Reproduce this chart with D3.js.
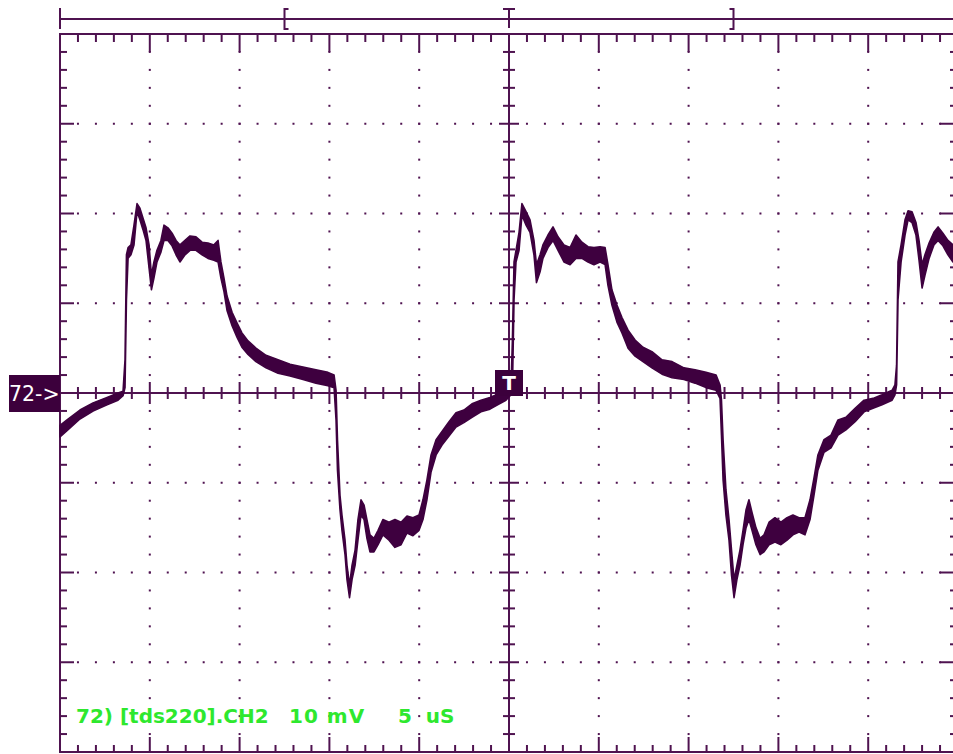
<!DOCTYPE html>
<html>
<head>
<meta charset="utf-8">
<script src="https://cdn.jsdelivr.net/npm/d3@7"></script>
<style>
  body { margin: 0; background: #ffffff; }
  svg { display: block; }
</style>
</head>
<body>
<div id="scope"></div>
<script>
// ---- screen readings: labels ----
const channelName = "72) [tds220].CH2";
const voltLabel = "10 mV";
const timeLabel = "5 uS";
const groundLabel = "72->";
const triggerLabel = "T";

// ---- screen readings: 5 uS/div, 10 mV/div, record window on top bar ----
const timeDomain = [-25, 25];
const voltDomain = [-40, 40];
const recordWindow = [-12.5, 12.5];

// ---- trace: time (uS), upper / lower edge of the noisy trace (mV) ----
const traceTime = [
  -25.0, -24.61, -23.89, -23.16, -22.38, -21.77, -21.49,
  -21.38, -21.30, -21.21, -21.05, -20.88, -20.71, -20.55, -20.38, -20.21, -20.04, -19.91, -19.77, -19.60, -19.38, -19.21, -18.99, -18.76, -18.54, -18.32, -18.04, -17.76, -17.43, -17.09, -16.76, -16.43, -16.20,
  -16.04, -15.87, -15.70, -15.42, -15.14, -14.87, -14.53, -14.09, -13.53, -12.86, -12.19, -11.47, -10.75, -10.08, -9.74,
  -9.63, -9.55, -9.41, -9.30, -9.13, -9.02, -8.88, -8.74, -8.57, -8.41, -8.24, -8.07, -7.91, -7.74, -7.52, -7.29, -7.02, -6.68, -6.35, -6.01, -5.68, -5.35, -5.01,
  -4.79, -4.57, -4.34, -4.06, -3.73, -3.34, -2.95, -2.51, -2.06, -1.56, -1.06, -0.61, -0.17, 0.11,
  0.19, 0.28, 0.39, 0.56, 0.72, 0.95, 1.17, 1.39, 1.53, 1.73, 1.89, 2.17, 2.45, 2.73, 3.06, 3.40, 3.73, 4.06, 4.40, 4.73, 5.07, 5.35,
  5.51, 5.73, 6.01, 6.29, 6.63, 7.02, 7.46, 7.96, 8.52, 9.08, 9.74, 10.36, 10.97, 11.53, 11.75,
  11.83, 11.92, 12.08, 12.25, 12.39, 12.53, 12.69, 12.86, 13.03, 13.20, 13.36, 13.53, 13.75, 13.98, 14.20, 14.48, 14.81, 15.14, 15.48, 15.81, 16.15, 16.48,
  16.76, 16.98, 17.20, 17.54, 17.93, 18.32, 18.76, 19.27, 19.77, 20.27, 20.77, 21.33, 21.49,
  21.58, 21.66, 21.83, 22.05, 22.22, 22.44, 22.66, 22.83, 23.00, 23.16, 23.39, 23.66, 23.89, 24.16, 24.44, 24.72
];
const traceHigh = [
  -3.6, -3.0, -1.9, -1.1, -0.5, 0.0, 0.2,
  3.7, 15.4, 16.2, 16.5, 18.7, 21.1, 20.6, 19.5, 18.4, 16.5, 13.1, 14.6, 15.9, 17.0, 18.7, 18.4, 17.8, 17.0, 16.5, 17.0, 17.5, 17.4, 16.8, 16.7, 16.5, 17.0,
  14.6, 12.8, 10.8, 9.0, 7.8, 6.7, 5.8, 5.0, 4.2, 3.7, 3.2, 2.9, 2.6, 2.3, 2.0,
  0.3, -5.2, -11.4, -13.6, -16.4, -19.2, -21.4, -19.2, -17.5, -14.1, -11.9, -12.5, -14.1, -15.8, -16.2, -15.3, -14.1, -14.4, -14.1, -14.4, -13.7, -13.9, -13.6,
  -11.9, -9.7, -6.9, -5.2, -4.3, -3.2, -2.2, -1.9, -1.2, -0.8, -0.5, -0.1, 0.3, 0.6,
  5.9, 14.6, 15.9, 17.9, 21.1, 20.2, 19.3, 17.0, 14.3, 15.4, 16.5, 17.6, 18.5, 17.4, 16.5, 16.2, 17.6, 16.8, 16.3, 16.2, 16.3, 16.2,
  14.3, 11.5, 9.8, 8.4, 7.0, 5.9, 5.1, 4.6, 3.7, 3.5, 2.8, 2.6, 2.3, 2.0, 0.9,
  -0.8, -5.2, -10.8, -14.1, -17.5, -20.8, -19.2, -17.5, -15.3, -13.0, -11.9, -13.3, -15.0, -16.2, -15.8, -14.4, -13.9, -14.4, -13.9, -13.6, -13.9, -13.9,
  -11.9, -9.5, -6.9, -5.2, -4.7, -3.0, -2.7, -1.7, -0.8, -0.6, -0.2, 0.3, 0.9,
  3.1, 14.6, 16.5, 19.3, 20.3, 20.2, 19.0, 17.0, 14.3, 15.4, 16.7, 17.9, 18.5, 17.8, 17.0, 16.5
];
const traceLow = [
  -4.9, -4.2, -2.9, -2.0, -1.3, -0.8, -0.3,
  0.6, 10.4, 15.0, 15.4, 16.5, 20.2, 19.3, 18.2, 17.0, 13.9, 11.5, 12.8, 14.6, 15.7, 17.0, 17.0, 16.4, 15.4, 14.6, 15.4, 15.9, 15.9, 15.4, 15.0, 14.8, 14.6,
  12.8, 11.3, 9.2, 7.5, 6.2, 5.1, 4.3, 3.5, 2.8, 2.2, 1.9, 1.5, 1.1, 0.8, 0.6,
  -3.0, -8.6, -13.0, -15.3, -18.0, -20.8, -22.8, -20.8, -19.2, -16.4, -13.6, -14.1, -16.2, -17.7, -17.7, -16.9, -15.8, -16.4, -17.2, -16.9, -15.6, -15.9, -15.3,
  -14.1, -11.9, -8.8, -6.9, -5.8, -4.8, -3.8, -3.3, -2.7, -2.1, -1.8, -1.3, -0.8, -0.2,
  0.3, 10.4, 14.6, 15.9, 19.8, 18.7, 17.9, 15.4, 12.3, 13.5, 15.0, 16.2, 17.0, 15.9, 14.6, 14.3, 15.0, 15.0, 14.6, 14.3, 14.6, 14.3,
  12.0, 9.8, 7.9, 6.7, 5.0, 4.1, 3.5, 2.8, 2.1, 1.7, 1.5, 1.1, 0.6, 0.3, -0.6,
  -4.7, -9.7, -13.6, -16.4, -20.3, -22.8, -20.8, -19.2, -16.9, -15.0, -14.1, -15.3, -16.9, -18.0, -17.7, -16.9, -16.6, -16.9, -16.4, -15.8, -15.5, -15.8,
  -14.1, -11.4, -8.6, -6.6, -6.1, -4.7, -4.1, -3.2, -2.1, -1.7, -1.3, -0.8, -0.2,
  0.9, 10.4, 14.6, 17.6, 19.3, 19.0, 17.6, 14.8, 11.7, 13.1, 15.0, 16.5, 17.0, 16.4, 15.4, 14.6
];

// ---- colours ----
const ink = "#4f1350";
const traceInk = "#3e003f";
const labelGreen = "#2ee82e";

// ---- svg ----
const svgWidth = 953;
const svgHeight = 754;

const svg = d3.select("#scope").append("svg")
  .attr("width", svgWidth)
  .attr("height", svgHeight)
  .style("background", "#ffffff");

// ---- scales: 10 x 8 divisions ----
const x = d3.scaleLinear().domain(timeDomain).range([60, 958]);
const y = d3.scaleLinear().domain(voltDomain).range([752, 34]);

const majorT = x.ticks(10);
const minorT = x.ticks(50);
const majorV = y.ticks(8);
const minorV = y.ticks(40);

const isMajorT = t => majorT.some(m => Math.abs(m - t) < 1e-6);
const isMajorV = v => majorV.some(m => Math.abs(m - v) < 1e-6);

const grid = svg.append("g").attr("fill", ink);

// dotted graticule along inner major lines
majorT.filter(t => t !== 0 && t !== timeDomain[0] && t !== timeDomain[1]).forEach(t => {
  grid.selectAll(null)
    .data(minorV.filter(v => v !== voltDomain[0] && v !== voltDomain[1]))
    .enter().append("rect")
    .attr("x", x(t) - 1)
    .attr("y", v => y(v) - 1)
    .attr("width", 2)
    .attr("height", 2);
});
majorV.filter(v => v !== 0 && v !== voltDomain[0] && v !== voltDomain[1]).forEach(v => {
  grid.selectAll(null)
    .data(minorT.filter(t => t !== timeDomain[0] && t !== timeDomain[1]))
    .enter().append("rect")
    .attr("x", t => x(t) - 1)
    .attr("y", y(v) - 1)
    .attr("width", 2)
    .attr("height", 2);
});

// ---- frame, centre axes and their ticks ----
const frame = svg.append("g")
  .attr("stroke", ink)
  .attr("stroke-width", 2)
  .attr("fill", "none");

frame.append("rect")
  .attr("x", x(timeDomain[0]))
  .attr("y", y(voltDomain[1]))
  .attr("width", x(timeDomain[1]) - x(timeDomain[0]))
  .attr("height", y(voltDomain[0]) - y(voltDomain[1]));

frame.append("line")
  .attr("x1", x(0)).attr("x2", x(0))
  .attr("y1", y(voltDomain[1])).attr("y2", y(voltDomain[0]));
frame.append("line")
  .attr("x1", x(timeDomain[0])).attr("x2", x(timeDomain[1]))
  .attr("y1", y(0)).attr("y2", y(0));

const innerT = minorT.filter(t => t !== timeDomain[0] && t !== timeDomain[1]);
const innerV = minorV.filter(v => v !== voltDomain[0] && v !== voltDomain[1]);

// top border ticks
frame.selectAll(".tTop").data(innerT).enter().append("line")
  .attr("x1", t => x(t)).attr("x2", t => x(t))
  .attr("y1", y(voltDomain[1]))
  .attr("y2", t => y(voltDomain[1]) + (isMajorT(t) ? 18 : 8));
// bottom border ticks
frame.selectAll(".tBot").data(innerT).enter().append("line")
  .attr("x1", t => x(t)).attr("x2", t => x(t))
  .attr("y1", y(voltDomain[0]))
  .attr("y2", t => y(voltDomain[0]) - (isMajorT(t) ? 15 : 7));
// left border ticks
frame.selectAll(".vLeft").data(innerV).enter().append("line")
  .attr("x1", x(timeDomain[0]))
  .attr("x2", v => x(timeDomain[0]) + (isMajorV(v) ? 14 : 7))
  .attr("y1", v => y(v)).attr("y2", v => y(v));
// right border ticks
frame.selectAll(".vRight").data(innerV).enter().append("line")
  .attr("x1", x(timeDomain[1]))
  .attr("x2", v => x(timeDomain[1]) - (isMajorV(v) ? 18 : 8))
  .attr("y1", v => y(v)).attr("y2", v => y(v));
// centre horizontal axis ticks
frame.selectAll(".tMid").data(innerT.filter(t => t !== 0)).enter().append("line")
  .attr("x1", t => x(t)).attr("x2", t => x(t))
  .attr("y1", t => y(0) - (isMajorT(t) ? 11 : 6))
  .attr("y2", t => y(0) + (isMajorT(t) ? 11 : 6));
// centre vertical axis ticks
frame.selectAll(".vMid").data(innerV.filter(v => v !== 0)).enter().append("line")
  .attr("x1", v => x(0) - (isMajorV(v) ? 10 : 6))
  .attr("x2", v => x(0) + (isMajorV(v) ? 10 : 6))
  .attr("y1", v => y(v)).attr("y2", v => y(v));

// ---- record bar on top ----
const bar = svg.append("g")
  .attr("stroke", ink)
  .attr("stroke-width", 2)
  .attr("fill", "none");

bar.append("line")
  .attr("x1", x(timeDomain[0])).attr("x2", svgWidth)
  .attr("y1", 19).attr("y2", 19);
bar.append("line")
  .attr("x1", x(timeDomain[0])).attr("x2", x(timeDomain[0]))
  .attr("y1", 8).attr("y2", 29);
bar.append("path")
  .attr("d", `M${x(recordWindow[0]) + 4},9 H${x(recordWindow[0])} V29 H${x(recordWindow[0]) + 4}`);
bar.append("path")
  .attr("d", `M${x(recordWindow[1]) - 4},9 H${x(recordWindow[1])} V29 H${x(recordWindow[1]) - 4}`);
bar.append("path")
  .attr("d", `M${x(0) - 6},9 H${x(0) + 6} M${x(0)},9 V28`);

// ---- trace ----
const trace = traceTime.map((t, i) => ({ t: t, hi: traceHigh[i], lo: traceLow[i] }));

const band = d3.area()
  .x(d => x(d.t))
  .y0(d => y(d.lo))
  .y1(d => y(d.hi))
  .curve(d3.curveLinear);

svg.append("path")
  .datum(trace)
  .attr("d", band)
  .attr("fill", traceInk)
  .attr("stroke", traceInk)
  .attr("stroke-width", 1.6)
  .attr("stroke-linejoin", "round");

// ---- ground marker and trigger marker ----
svg.append("rect")
  .attr("x", 9).attr("y", y(0) - 18)
  .attr("width", x(timeDomain[0]) - 9).attr("height", 37)
  .attr("fill", "#3c003c");
svg.append("text")
  .attr("x", 9).attr("y", y(0) + 8)
  .attr("fill", "#ffffff")
  .style("font-family", "DejaVu Sans")
  .style("font-size", "20.5px")
  .text(groundLabel);

svg.append("rect")
  .attr("x", x(0) - 14).attr("y", y(0) - 23)
  .attr("width", 28).attr("height", 26)
  .attr("fill", "#3c003c");
svg.append("text")
  .attr("x", x(0)).attr("y", y(0) - 3)
  .attr("text-anchor", "middle")
  .attr("fill", "#ffffff")
  .style("font-family", "DejaVu Sans")
  .style("font-weight", "bold")
  .style("font-size", "20px")
  .text(triggerLabel);

// ---- green readout ----
const readout = svg.append("g")
  .attr("fill", labelGreen)
  .style("font-family", "DejaVu Sans")
  .style("font-weight", "bold")
  .style("font-size", "20px");

readout.append("text").attr("x", 76).attr("y", 723).text(channelName);
readout.append("text").attr("x", 289).attr("y", 723)
  .style("letter-spacing", "1px").text(voltLabel);
readout.append("text").attr("x", 398).attr("y", 723)
  .attr("xml:space", "preserve").style("white-space", "pre")
  .text(timeLabel.replace(" ", "  "));
</script>
</body>
</html>
